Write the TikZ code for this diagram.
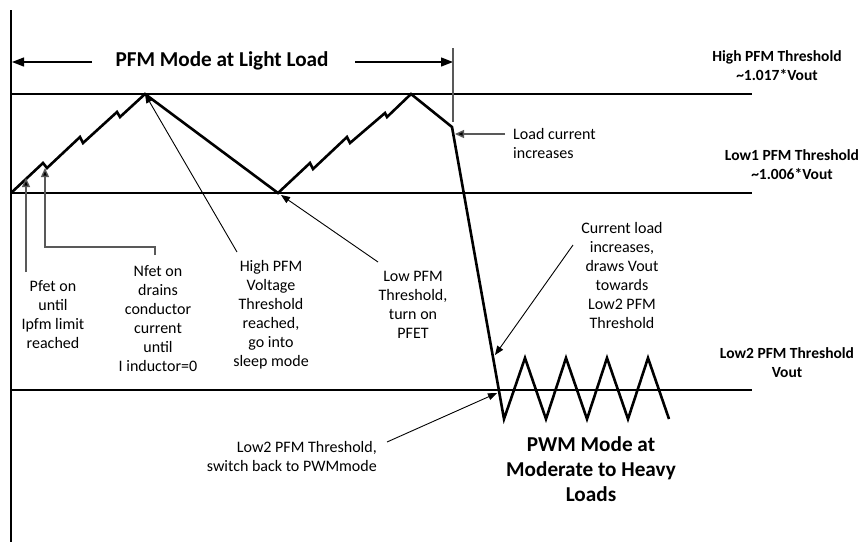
\documentclass[tikz,border=0pt]{standalone}
\usepackage{fontspec}
\setmainfont{Carlito}
\usetikzlibrary{arrows.meta}
\begin{document}
\begin{tikzpicture}[x=1pt,y=-1pt,
  thr/.style={line width=2pt},
  wave/.style={line width=2.6pt, line join=miter},
  ann/.style={line width=0.9pt, -{Triangle[length=9pt,width=7pt]}},
  gann/.style={draw=black!65, line width=1.4pt, -{Triangle[length=9pt,width=8pt,fill=black]}},
  lbl/.style={font=\fontsize{16}{19}\selectfont, align=center, inner sep=0pt},
  blbl/.style={font=\bfseries\fontsize{15.5}{19}\selectfont, align=center, inner sep=0pt},
  big/.style={font=\bfseries\fontsize{21.2}{25}\selectfont, align=center, inner sep=0pt},
]
\useasboundingbox (0,0) rectangle (862,542);
% axis and thresholds
\coordinate (axT) at (11,10);
\coordinate (axB) at (11,542);
\draw[thr] (axT) -- (axB);
\coordinate (hL) at (11,94);  \coordinate (hR) at (752,94);
\coordinate (l1L) at (11,193); \coordinate (l1R) at (752,193);
\coordinate (l2L) at (11,390); \coordinate (l2R) at (752,390);
\draw[thr] (hL) -- (hR);
\draw[thr] (l1L) -- (l1R);
\draw[thr] (l2L) -- (l2R);
% waveform points
\coordinate (w0) at (11,193);
\coordinate (w1) at (43,163);
\coordinate (w2) at (47,168);
\coordinate (w3) at (80,137);
\coordinate (w4) at (83,143);
\coordinate (w5) at (117,112);
\coordinate (w6) at (120,117);
\coordinate (pk1) at (145,94);
\coordinate (vl) at (278,193);
\coordinate (w7) at (310,163);
\coordinate (w8) at (313,169);
\coordinate (w9) at (347,137);
\coordinate (w10) at (350,143);
\coordinate (w11) at (385,113);
\coordinate (w12) at (387,117);
\coordinate (pk2) at (411,94);
\coordinate (knee) at (452,127);
\coordinate (b0) at (504,419);
\coordinate (t1) at (525,358); \coordinate (b1) at (546,419);
\coordinate (t2) at (566,358); \coordinate (b2) at (587,419);
\coordinate (t3) at (607,358); \coordinate (b3) at (628,419);
\coordinate (t4) at (648,358); \coordinate (b4) at (669,419);
\draw[wave] (w0) -- (w1) -- (w2) -- (w3) -- (w4) -- (w5) -- (w6) -- (pk1)
  -- (vl) -- (w7) -- (w8) -- (w9) -- (w10) -- (w11) -- (w12) -- (pk2)
  -- (knee) -- (b0) -- (t1) -- (b1) -- (t2) -- (b2) -- (t3) -- (b3) -- (t4) -- (b4);
% PFM mode title and arrows
\node[big] (pfm) at (222,61) {PFM Mode at Light Load};
\coordinate (pfmL) at (12,62);
\coordinate (pfmLs) at (92,62);
\coordinate (pfmR) at (453,62);
\coordinate (pfmRs) at (355,62);
\draw[line width=1.3pt, -{Triangle[length=12pt,width=9pt]}] (pfmLs) -- (pfmL);
\draw[line width=1.3pt, -{Triangle[length=12pt,width=9pt]}] (pfmRs) -- (pfmR);
\coordinate (mkT) at (453,48);
\coordinate (mkB) at (453,122);
\draw[draw=black!65, line width=1.4pt] (mkT) -- (mkB);
% right labels
\node[blbl] (hlab) at (777,65.5) {High PFM Threshold\\\textasciitilde1.017*Vout};
\node[blbl] (l1lab) at (792,164.5) {Low1 PFM Threshold\\\textasciitilde1.006*Vout};
\node[blbl] (l2lab) at (787,362.5) {Low2 PFM Threshold\\Vout};
% load current increases
\node[lbl, align=left, anchor=west] (lci) at (513,143.5) {Load current\\increases};
\coordinate (lciS) at (505,134);
\coordinate (lciT) at (455,134);
\draw[gann] (lciS) -- (lciT);
% Pfet
\node[lbl] (pfet) at (53,314.5) {Pfet on\\until\\Ipfm limit\\reached};
\coordinate (pfS) at (26,272);
\coordinate (pfT) at (26,178);
\draw[gann] (pfS) -- (pfT);
% Nfet
\node[lbl] (nfet) at (158,319) {Nfet on\\drains\\conductor\\current\\until\\I inductor=0};
\coordinate (nfS) at (155,255);
\coordinate (nfT) at (45,168);
\draw[gann] (nfS) -- (155,247) -- (45,247) -- (nfT);
% High PFM
\node[lbl] (hpfm) at (271,315) {High PFM\\Voltage\\Threshold\\reached,\\go into\\sleep mode};
\coordinate (hpS) at (237,252);
\draw[ann] (hpS) -- (pk1);
% Low PFM
\node[lbl] (lpfm) at (413,304.5) {Low PFM\\Threshold,\\turn on\\PFET};
\coordinate (lpS) at (378,262);
\coordinate (lpT) at (281,195);
\draw[ann] (lpS) -- (lpT);
% Current load
\node[lbl] (cl) at (622,275.5) {Current load\\increases,\\draws Vout\\towards\\Low2 PFM\\Threshold};
\coordinate (clS) at (573,245);
\coordinate (clT) at (495,355);
\draw[ann] (clS) -- (clT);
% Low2
\node[lbl, align=right, anchor=east] (l2t) at (377,456) {Low2 PFM Threshold,\\switch back to PWMmode};
\coordinate (l2S) at (387,442);
\coordinate (l2T) at (497,393);
\draw[ann] (l2S) -- (l2T);
% PWM
\node[big] (pwm) at (591,469) {PWM Mode at\\Moderate to Heavy\\Loads};
\end{tikzpicture}
\end{document}
